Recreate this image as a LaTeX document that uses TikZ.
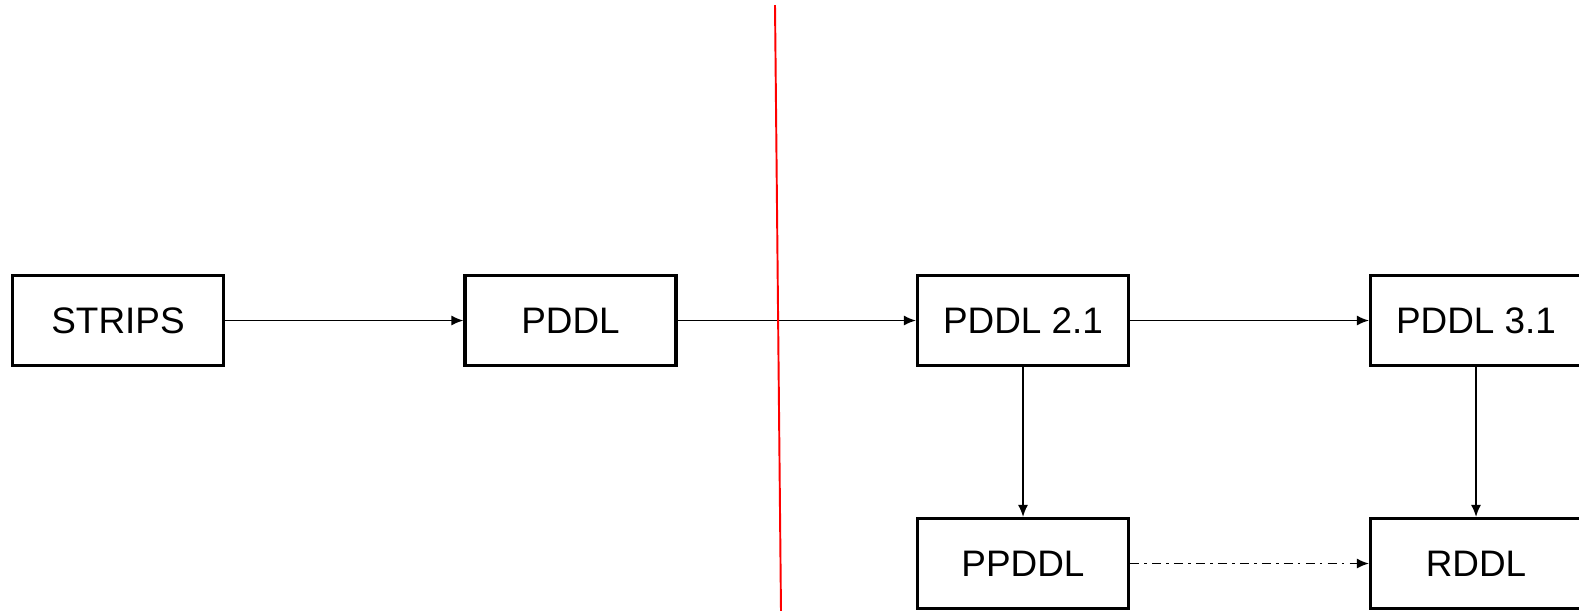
\documentclass[tikz,border=0pt]{standalone}
\usepackage{fontspec}
\setmainfont{Liberation Sans}
\usetikzlibrary{arrows.meta}
\begin{document}
\begin{tikzpicture}[x=0.02cm,y=-0.02cm,
  lang/.style={draw,fill=white,line width=1.8pt,minimum width=4.22cm,minimum height=1.8cm,
    inner sep=0pt,font=\fontsize{21}{25}\selectfont},
  evol/.style={-{Latex[length=2.4mm,width=2mm]},line width=0.9pt},
  maybe/.style={evol,dash pattern=on 5pt off 3pt on 1.5pt off 3pt}]
\useasboundingbox (0,0) rectangle (1579,610);
% top row
\node[lang] (strips) at (118,320.5) {STRIPS};
\node[lang] (pddl) at (570.5,320.5) {PDDL};
\node[lang] (pddlii) at (1023,320.5) {PDDL 2.1};
\node[lang] (pddliii) at (1476,320.5) {PDDL 3.1};
% bottom row
\node[lang] (ppddl) at (1023,563.5) {PPDDL};
\node[lang] (rddl) at (1476,563.5) {RDDL};
\draw[evol] (strips)--(pddl);
\draw[evol] (pddl)--(pddlii);
\draw[evol] (pddlii)--(pddliii);
\draw[evol] (pddlii)--(ppddl);
\draw[evol] (pddliii)--(rddl);
\draw[maybe] (ppddl)--(rddl);
% the split
\draw[red,line width=1.1pt] (775,5)--(781,612);
\end{tikzpicture}
\end{document}
